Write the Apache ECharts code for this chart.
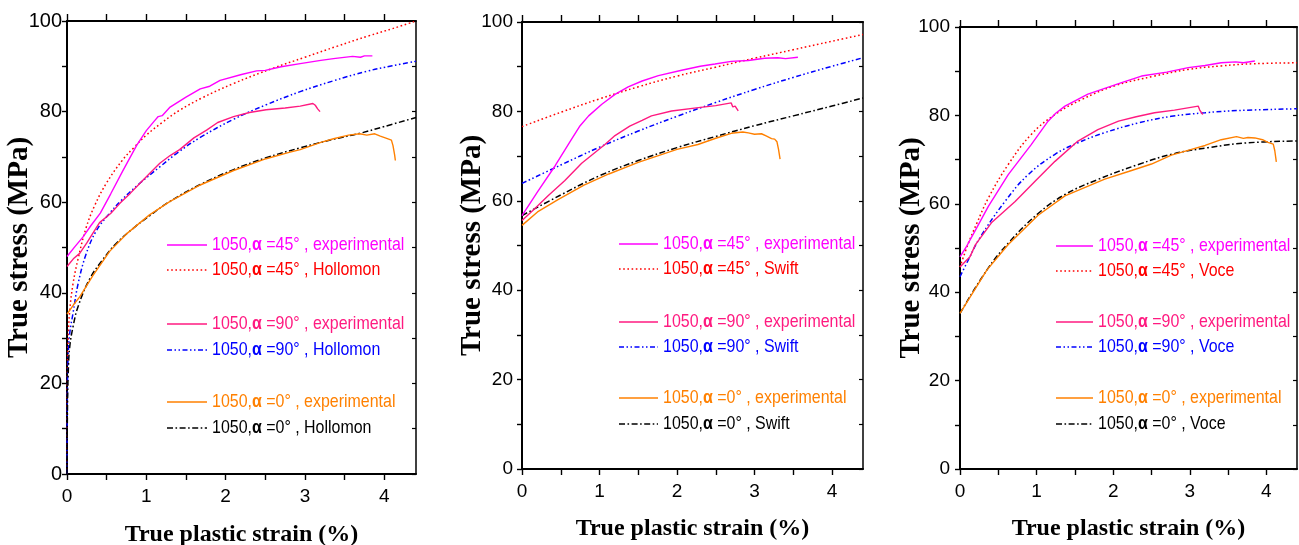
<!DOCTYPE html>
<html>
<head>
<meta charset="utf-8">
<script src="https://cdn.jsdelivr.net/npm/echarts@6/dist/echarts.min.js"></script>
<style>
  html, body { margin: 0; padding: 0; background: #fff; }
  #chart { width: 1299px; height: 545px; }
</style>
</head>
<body>
<div id="chart"></div>
<script>
// Tick positions and labels (true plastic strain in %, true stress in MPa)
const xTicks = [0, 0.5, 1, 1.5, 2, 2.5, 3, 3.5, 4];
const xTickLabels = [0, 1, 2, 3, 4];
const yTicks = [0, 10, 20, 30, 40, 50, 60, 70, 80, 90, 100];
const yTickLabels = [0, 20, 40, 60, 80, 100];

// ---- Hollomon panel: [strain %, stress MPa]
const holExp45 = [[0,48],[0.1,50.2],[0.2,52.3],[0.3,54.8],[0.42,57.6],[0.55,61.8],[0.7,66.8],[0.88,72.6],[1.0,75.8],[1.1,77.9],[1.15,78.9],[1.2,79.1],[1.3,81],[1.5,83.2],[1.68,85],[1.8,85.6],[1.93,86.9],[2.2,88.2],[2.39,89],[2.5,89.1],[2.7,89.9],[2.94,90.6],[3.2,91.3],[3.36,91.7],[3.6,92.2],[3.7,92.0],[3.75,92.3],[3.85,92.3]];
const holFit45 = [[0,0],[0.005,22],[0.015,30],[0.034,36],[0.076,42],[0.14,47.5],[0.24,54.3],[0.35,59.3],[0.5,64.3],[0.7,69.3],[0.84,72.0],[1.0,74.8],[1.2,77.6],[1.42,80.3],[1.7,83],[2.1,86.2],[2.6,89.6],[3.0,92],[3.4,94.4],[3.8,96.7],[4.1,98.3],[4.4,100]];
const holExp90 = [[0,45.8],[0.08,47.5],[0.16,48.7],[0.25,51],[0.41,55.5],[0.55,57.5],[0.67,59.8],[0.8,62],[0.92,64.2],[1.05,66.5],[1.17,68.6],[1.3,70.3],[1.42,71.6],[1.6,74.2],[1.76,75.9],[1.9,77.6],[2.1,78.9],[2.3,79.8],[2.51,80.4],[2.75,80.8],[2.94,81.2],[3.1,81.8],[3.13,81.4],[3.15,81.5],[3.16,80.6],[3.19,80.0]];
const holFit90 = [[0,0],[0.005,18],[0.015,26],[0.034,31],[0.076,35.5],[0.14,42],[0.24,48.5],[0.37,53.7],[0.54,57.6],[0.69,60.5],[0.9,63.9],[1.17,67.8],[1.4,71],[1.68,74.3],[2.1,78.3],[2.51,81.5],[2.94,84.4],[3.36,86.8],[3.78,88.9],[4.1,90.1],[4.4,91.1]];
const holExp0 = [[0,35.3],[0.08,37.3],[0.16,39.1],[0.33,43.9],[0.54,49.2],[0.75,53],[1.04,57.2],[1.3,60.2],[1.68,63.8],[2.1,67],[2.51,69.6],[2.8,71],[2.94,71.6],[3.2,73.2],[3.36,74],[3.55,74.8],[3.69,75.1],[3.78,74.8],[3.88,75.1],[3.95,74.6],[4.03,74.1],[4.09,73.7],[4.11,72.5],[4.13,70.5],[4.14,69.2]];
const holFit0 = [[0,0],[0.005,13],[0.015,22],[0.034,28],[0.076,32.5],[0.14,37],[0.29,43.2],[0.45,47.3],[0.62,50.9],[0.84,54.3],[1.04,57],[1.3,60.2],[1.68,63.9],[2.1,67.2],[2.51,69.8],[2.94,72],[3.36,73.9],[3.69,75.2],[4.0,76.7],[4.4,78.7]];

// ---- Swift panel
const swiExp45 = [[0,56.7],[0.2,62],[0.43,67.9],[0.64,73.8],[0.75,76.8],[0.86,79.0],[1.03,81.6],[1.2,83.8],[1.37,85.5],[1.55,86.8],[1.76,88.0],[2.06,89.2],[2.3,90.1],[2.49,90.6],[2.7,91.2],[2.92,91.4],[3.13,91.9],[3.3,92.0],[3.4,91.8],[3.56,92.1]];
const swiFit45 = [[0,76.6],[0.5,79.8],[1.0,82.8],[1.5,85.5],[2.0,87.9],[2.5,89.9],[3.0,91.9],[3.5,93.8],[4.0,95.7],[4.4,97.2]];
const swiExp90 = [[0,55.6],[0.15,58],[0.34,61.2],[0.55,64.5],[0.77,68.4],[1.07,72.6],[1.2,74.6],[1.39,76.7],[1.55,78.0],[1.67,79.0],[1.93,80.1],[2.25,80.8],[2.5,81.3],[2.7,81.9],[2.72,81.0],[2.75,81.2],[2.79,80.1]];
const swiFit90 = [[0,63.9],[0.5,68.0],[1.0,72.0],[1.5,75.6],[2.0,78.9],[2.5,82.0],[3.0,84.9],[3.5,87.6],[4.0,90.1],[4.4,92.0]];
const swiExp0 = [[0,54.5],[0.2,57.5],[0.47,60.3],[0.8,63.5],[1.12,66.0],[1.5,68.6],[2.0,71.5],[2.27,72.6],[2.5,74.0],[2.7,75.1],[2.85,75.4],[2.92,75.2],[3.0,74.9],[3.09,75.0],[3.15,74.5],[3.22,73.9],[3.26,73.8],[3.29,73.2],[3.31,71.5],[3.33,69.3]];
const swiFit0 = [[0,56.7],[0.5,61.3],[1.0,65.6],[1.5,69.0],[2.0,71.9],[2.5,74.4],[3.0,76.8],[3.5,79.0],[4.0,81.2],[4.4,83.0]];

// ---- Voce panel
const voceExp45 = [[0,48],[0.09,50.5],[0.2,54],[0.37,59.4],[0.63,66.6],[0.93,73.4],[1.15,78.7],[1.25,80.5],[1.37,82.1],[1.67,84.8],[2.11,87.4],[2.37,88.9],[2.7,89.8],[2.98,90.8],[3.2,91.3],[3.41,91.9],[3.6,92.1],[3.7,91.9],[3.85,92.3]];
const voceFit45 = [[0,45.7],[0.11,51.1],[0.22,55.6],[0.37,61.3],[0.63,68.9],[0.93,75.7],[1.24,80.2],[1.59,83.6],[2.02,86.7],[2.54,88.9],[2.98,90.4],[3.41,91.2],[3.85,91.7],[4.4,91.9]];
const voceExp90 = [[0,45.7],[0.13,48],[0.2,50.7],[0.41,55.7],[0.72,60.5],[0.98,65.1],[1.24,69.6],[1.54,74.2],[1.8,76.8],[2.07,78.7],[2.3,79.7],[2.54,80.6],[2.8,81.2],[3.11,82.1],[3.13,81.2],[3.15,81.5],[3.17,80.2]];
const voceFit90 = [[0,43.5],[0.1,47],[0.26,52.3],[0.59,60.6],[0.89,66.6],[1.24,71.2],[1.54,73.8],[1.89,76.1],[2.33,78.3],[2.76,79.8],[3.2,80.6],[3.63,81.1],[4.4,81.5]];
const voceExp0 = [[0,35.2],[0.35,45],[0.63,50.8],[1.02,57.4],[1.37,61.8],[1.89,65.6],[2.2,67.3],[2.5,69.0],[2.76,71.0],[3.0,72.2],[3.2,73.2],[3.41,74.5],[3.61,75.2],[3.7,74.8],[3.76,75.0],[3.85,74.9],[3.95,74.5],[4.02,73.9],[4.09,73.5],[4.11,72.0],[4.13,69.5]];
const voceFit0 = [[0,35.2],[0.35,45],[0.63,51.1],[1.02,57.8],[1.37,62.1],[1.8,65.5],[2.33,68.9],[2.76,71.2],[3.24,72.7],[3.76,73.8],[4.4,74.2]];

// Line appearance per curve family
const COLORS = { exp45: '#ff00ff', fit45: '#ff0000', exp90: '#ff1a80', fit90: '#0000ff', exp0: '#ff8000', fit0: '#000000' };
const DASH = { exp45: null, fit45: [1.6, 2.6], exp90: null, fit90: [5, 2.5, 1.5, 2.5, 1.5, 2.5], exp0: null, fit0: [6, 2.5, 1.6, 2.5] };
const ANGLE = { exp45: '45', fit45: '45', exp90: '90', fit90: '90', exp0: '0', fit0: '0' };
const ORDER = ['exp45', 'fit45', 'exp90', 'fit90', 'exp0', 'fit0'];

const panels = [
  { model: 'Hollomon', grid: { left: 67, top: 21, width: 349, height: 453 }, yFont: 20, yMargin: 5, yNameGap: 33, xNameGap: 49,
    data: { exp45: holExp45, fit45: holFit45, exp90: holExp90, fit90: holFit90, exp0: holExp0, fit0: holFit0 },
    legend: { x: 167, len: 40, rows: [245, 270, 324, 350, 402, 428] } },
  { model: 'Swift', grid: { left: 522, top: 22, width: 341, height: 447 }, yFont: 19, yMargin: 9, yNameGap: 35, xNameGap: 48,
    data: { exp45: swiExp45, fit45: swiFit45, exp90: swiExp90, fit90: swiFit90, exp0: swiExp0, fit0: swiFit0 },
    legend: { x: 619, len: 39, rows: [244, 269, 322, 347, 398, 424] } },
  { model: 'Voce', grid: { left: 960, top: 27, width: 337, height: 442 }, yFont: 19, yMargin: 10, yNameGap: 34, xNameGap: 48,
    data: { exp45: voceExp45, fit45: voceFit45, exp90: voceExp90, fit90: voceFit90, exp0: voceExp0, fit0: voceFit0 },
    legend: { x: 1056, len: 37, rows: [246, 271, 322, 347, 398, 424] } }
];

const SANS = 'Liberation Sans, Arial, sans-serif';
const SERIF = 'Liberation Serif, Times New Roman, serif';
const BLACK = '#000';

const grids = [], xAxes = [], yAxes = [], series = [], graphics = [];

panels.forEach((p, gi) => {
  grids.push(Object.assign({ containLabel: false, outerBoundsMode: 'none' }, p.grid));

  // bottom axis (labelled)
  xAxes.push({
    gridIndex: gi, type: 'value', position: 'bottom', min: 0, max: 4.4,
    axisLine: { onZero: false, lineStyle: { color: BLACK, width: 2 } },
    axisTick: { inside: false, length: 6, customValues: xTicks, lineStyle: { color: BLACK, width: 1.4 } },
    axisLabel: { customValues: xTickLabels, color: BLACK, fontSize: 19, fontFamily: SANS, margin: 13 },
    splitLine: { show: false },
    name: 'True plastic strain (%)', nameLocation: 'middle', nameGap: p.xNameGap, nameMoveOverlap: false,
    nameTextStyle: { color: BLACK, fontFamily: SERIF, fontWeight: 'bold', fontSize: 24 }
  });
  // top frame with outward ticks
  xAxes.push({
    gridIndex: gi, type: 'value', position: 'top', min: 0, max: 4.4,
    axisLine: { show: true, onZero: false, lineStyle: { color: BLACK, width: 2 } },
    axisTick: { show: true, inside: false, length: 7, customValues: xTicks, lineStyle: { color: BLACK, width: 1.4 } },
    axisLabel: { show: false },
    splitLine: { show: false }
  });
  // left axis (labelled)
  yAxes.push({
    gridIndex: gi, type: 'value', position: 'left', min: 0, max: 100,
    axisLine: { onZero: false, lineStyle: { color: BLACK, width: 2 } },
    axisTick: { inside: false, length: 5, customValues: yTicks, lineStyle: { color: BLACK, width: 1.4 } },
    axisLabel: { customValues: yTickLabels, color: BLACK, fontSize: p.yFont, fontFamily: SANS, margin: p.yMargin },
    splitLine: { show: false },
    name: 'True stress (MPa)', nameLocation: 'middle', nameGap: p.yNameGap, nameRotate: 90, nameMoveOverlap: false,
    nameTextStyle: { color: BLACK, fontFamily: SERIF, fontWeight: 'bold', fontSize: 29 }
  });
  // right frame with inward ticks
  yAxes.push({
    gridIndex: gi, type: 'value', position: 'right', min: 0, max: 100,
    axisLine: { show: true, onZero: false, lineStyle: { color: BLACK, width: 1.5 } },
    axisTick: { show: true, inside: true, length: 4, customValues: yTicks, lineStyle: { color: BLACK, width: 1.2 } },
    axisLabel: { show: false },
    splitLine: { show: false }
  });

  ORDER.forEach(key => {
    const isFit = key.startsWith('fit');
    series.push({
      name: `1050 α=${ANGLE[key]}° ${isFit ? p.model : 'experimental'} (${gi})`,
      type: 'line', xAxisIndex: gi * 2, yAxisIndex: gi * 2,
      data: p.data[key], showSymbol: false, symbol: 'none',
      smooth: isFit ? 0.4 : false,
      lineStyle: { color: COLORS[key], width: isFit ? 1.5 : 1.4, type: DASH[key] || 'solid' },
      z: isFit ? 2 : 3, animation: false
    });
  });

  // legend block: sample line + coloured label with bold alpha
  ORDER.forEach((key, i) => {
    const y = p.legend.rows[i];
    const col = COLORS[key];
    const tail = ` =${ANGLE[key]}° , ${key.startsWith('fit') ? p.model : 'experimental'}`;
    graphics.push({
      type: 'line', silent: true,
      shape: { x1: p.legend.x, y1: y, x2: p.legend.x + p.legend.len, y2: y },
      style: { stroke: col, lineWidth: key.startsWith('fit') ? 1.5 : 1.4, lineDash: DASH[key] || null }
    });
    graphics.push({
      type: 'text', silent: true, x: p.legend.x + p.legend.len + 5, y: y, scaleX: 0.84,
      style: {
        text: `{n|1050,}{a|α}{n|${tail}}`,
        fill: col, fontSize: 19, fontFamily: SANS, verticalAlign: 'middle', align: 'left',
        rich: {
          n: { fill: col, fontSize: 19, fontFamily: SANS },
          a: { fill: col, fontSize: 19, fontFamily: SANS, fontWeight: 'bold' }
        }
      }
    });
  });
});

const chart = echarts.init(document.getElementById('chart'), null, { renderer: 'canvas' });
chart.setOption({
  backgroundColor: '#ffffff',
  animation: false,
  grid: grids,
  xAxis: xAxes,
  yAxis: yAxes,
  series: series,
  graphic: graphics
});
</script>
</body>
</html>
